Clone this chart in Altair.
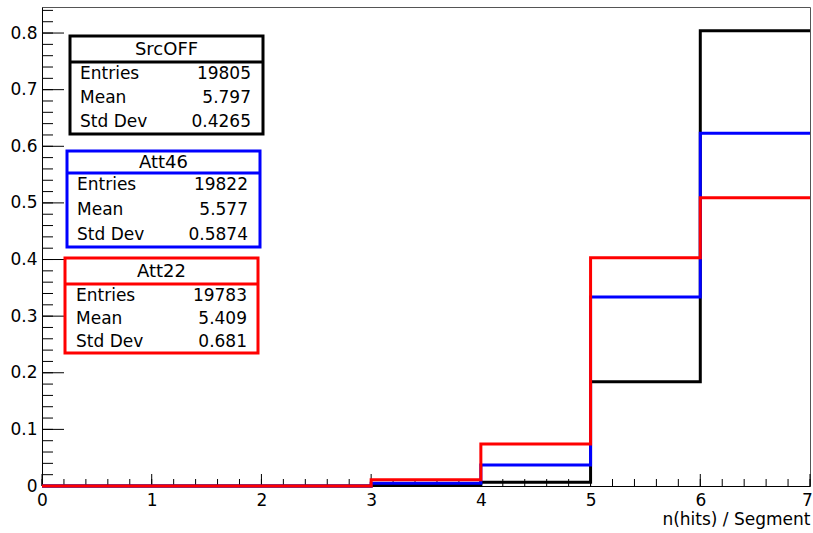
import altair as alt
import numpy as np
import pandas as pd

# Histogram bins: lower edges 0..6 (width 1), upper edge 7; contents normalised to unit area
bin_edges = [0, 1, 2, 3, 4, 5, 6, 7]
srcoff = [0.0, 0.0, 0.0, 0.001, 0.0065, 0.184, 0.804]
att46 = [0.0, 0.0, 0.0, 0.005, 0.037, 0.334, 0.623]
att22 = [0.0, 0.0, 0.0, 0.011, 0.074, 0.403, 0.509]

series_names = ["SrcOFF", "Att46", "Att22"]
series_values = [srcoff, att46, att22]
series_colors = ["#000000", "#0000ff", "#ff0000"]

# Statistics box contents
stat_labels = ["Entries", "Mean", "Std Dev"]
entries = ["19805", "19822", "19783"]
means = ["5.797", "5.577", "5.409"]
std_devs = ["0.4265", "0.5874", "0.681"]

x_tick_labels = [0, 1, 2, 3, 4, 5, 6, 7]
y_tick_labels = [0, 0.1, 0.2, 0.3, 0.4, 0.5, 0.6, 0.7, 0.8]

# ---- layout / style ----
W, H = 768, 479
FONT = "DejaVu Sans"
FS = 17
X_DOMAIN = [0, 7]
Y_DOMAIN = [0, 0.846]

# stat box geometry in plot-area pixels: left, right, top, bottom, separator, label x, value x
STAT_BOX_LAYOUT = [
    dict(left=28, right=221, top=29, bottom=127, sep=55, lx=38, vx=209),
    dict(left=25, right=218, top=144, bottom=240, sep=166, lx=35, vx=206),
    dict(left=23, right=216, top=251, bottom=346, sep=277, lx=34, vx=205),
]

x_scale = alt.Scale(domain=X_DOMAIN, nice=False, zero=False)
y_scale = alt.Scale(domain=Y_DOMAIN, nice=False, zero=False)

x_axis = alt.Axis(values=x_tick_labels, format="d", ticks=False, grid=False,
                  domainColor="black", domainWidth=1,
                  labelFont=FONT, labelFontSize=FS, labelColor="black",
                  labelPadding=6, labelFlush=False, labelOverlap=False,
                  labelOffset={"condition": {"test": "datum.value == 7", "value": -3}, "value": 0},
                  title="n(hits) / Segment", titleFont=FONT, titleFontSize=FS,
                  titleFontWeight="normal", titleColor="black",
                  titleX=W, titleY=33, titleAlign="right",
                  titleBaseline="middle", titleAnchor="end")
y_axis = alt.Axis(values=y_tick_labels, format="~g", ticks=False, grid=False,
                  domainColor="black", domainWidth=1,
                  labelFont=FONT, labelFontSize=FS, labelColor="black",
                  labelPadding=5, labelFlush=False, labelOverlap=False,
                  title=None)

# ---- inward tick marks ----
y_major = np.round(np.arange(0, 0.81, 0.1), 2)
y_minor = np.round(np.arange(0, 0.847, 0.02), 2)
x_major = np.arange(0, 8, 1.0)
x_minor = np.round(np.arange(0, 7.01, 0.2), 1)

def y_ticks(vals, length):
    return alt.Chart(pd.DataFrame({"v": vals})).mark_rule(color="black", strokeWidth=1).encode(
        y=alt.Y("v:Q", scale=y_scale, axis=y_axis),
        x=alt.value(0), x2=alt.value(length))

def x_ticks(vals, length):
    return alt.Chart(pd.DataFrame({"v": vals})).mark_rule(color="black", strokeWidth=1).encode(
        x=alt.X("v:Q", scale=x_scale, axis=x_axis),
        y=alt.value(H), y2=alt.value(H - length))

tick_layers = [y_ticks(y_minor, 11), y_ticks(y_major, 22), x_ticks(x_minor, 7), x_ticks(x_major, 12)]

# ---- histogram outlines (step lines) ----
layers = []
for name, vals, color in zip(series_names, series_values, series_colors):
    ys = list(vals) + [vals[-1]]
    df = pd.DataFrame({"x": bin_edges, "y": ys, "series": name})
    layers.append(
        alt.Chart(df)
        .mark_line(interpolate="step-after", strokeWidth=3, color=color,
                   strokeCap="butt", strokeJoin="miter")
        .encode(
            x=alt.X("x:Q", scale=x_scale, axis=x_axis),
            y=alt.Y("y:Q", scale=y_scale, axis=y_axis),
        )
    )

# ---- statistics boxes ----
box_rows, text_rows, title_rows = [], [], []
stat_values = list(zip(entries, means, std_devs))
for name, color, lay, vals in zip(series_names, series_colors, STAT_BOX_LAYOUT, stat_values):
    box_rows.append(dict(name=name, color=color, **lay))
    title_rows.append(dict(text=name, x=(lay["left"] + lay["right"]) / 2,
                           y=(lay["top"] + lay["sep"]) / 2 + 1))
    row_h = (lay["bottom"] - lay["sep"]) / 3
    for i, (lab, val) in enumerate(zip(stat_labels, vals)):
        yy = lay["sep"] + row_h * (i + 0.5)
        text_rows.append(dict(text=lab, x=lay["lx"], y=yy, align="left"))
        text_rows.append(dict(text=val, x=lay["vx"], y=yy, align="right"))

boxes = pd.DataFrame(box_rows)
texts = pd.DataFrame(text_rows)
titles = pd.DataFrame(title_rows)

color_scale = alt.Scale(domain=series_names, range=series_colors)

box_rect = alt.Chart(boxes).mark_rect(fill="white", strokeWidth=3).encode(
    x=alt.X("left:Q", scale=None), x2="right:Q",
    y=alt.Y("top:Q", scale=None), y2="bottom:Q",
    stroke=alt.Stroke("name:N", scale=color_scale, legend=None))

box_sep = alt.Chart(boxes).mark_rule(strokeWidth=3).encode(
    x=alt.X("left:Q", scale=None), x2="right:Q",
    y=alt.Y("sep:Q", scale=None),
    color=alt.Color("name:N", scale=color_scale, legend=None))

left_texts = alt.Chart(texts).transform_filter(alt.datum.align == "left").mark_text(
    font=FONT, fontSize=FS, align="left", baseline="middle", color="black").encode(
    x=alt.X("x:Q", scale=None), y=alt.Y("y:Q", scale=None), text="text:N")

right_texts = alt.Chart(texts).transform_filter(alt.datum.align == "right").mark_text(
    font=FONT, fontSize=FS, align="right", baseline="middle", color="black").encode(
    x=alt.X("x:Q", scale=None), y=alt.Y("y:Q", scale=None), text="text:N")

title_texts = alt.Chart(titles).mark_text(
    font=FONT, fontSize=FS + 1, align="center", baseline="middle", color="black").encode(
    x=alt.X("x:Q", scale=None), y=alt.Y("y:Q", scale=None), text="text:N")

chart = alt.layer(
    *tick_layers, *layers, box_rect, box_sep, left_texts, right_texts, title_texts
).properties(
    width=W, height=H,
    autosize=alt.AutoSizeParams(type="none"),
    padding={"left": 42, "top": 7, "right": 3, "bottom": 47},
    background="white",
).configure_view(stroke="#555555", strokeWidth=1)

chart.save("out.html", embed_options={"renderer": "svg", "actions": False})
